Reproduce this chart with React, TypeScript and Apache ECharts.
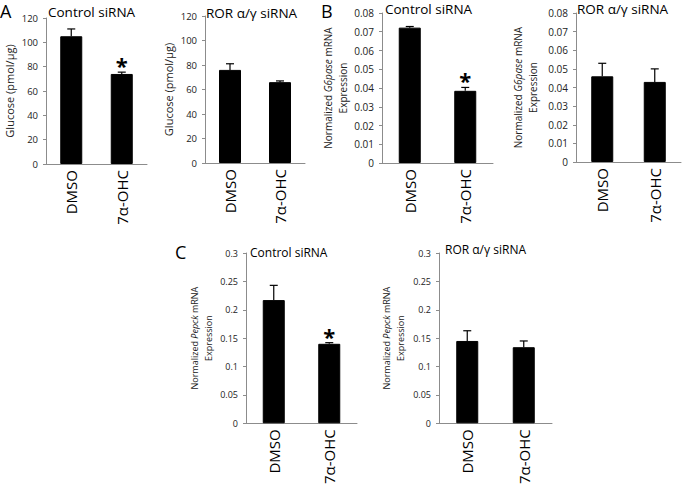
import React, { useEffect, useRef } from "react";
import * as echarts from "echarts";

const categories = ["DMSO", "7α-OHC"];

const glucoseControl = [105, 74];
const glucoseControlErr = [6, 1.5];
const glucoseRor = [76, 66];
const glucoseRorErr = [5, 1];

const g6paseControl = [0.0722, 0.0385];
const g6paseControlErr = [0.0006, 0.0018];
const g6paseRor = [0.046, 0.043];
const g6paseRorErr = [0.007, 0.007];

const pepckControl = [0.217, 0.14];
const pepckControlErr = [0.026, 0.002];
const pepckRor = [0.145, 0.134];
const pepckRorErr = [0.018, 0.011];

const controlSig = [0, 1];
const rorSig = [0, 0];

const FONT = "Open Sans";

type Panel = {
  grid: { left: number; top: number; width: number; height: number };
  values: number[];
  errs: number[];
  sig: number[];
  max: number;
  interval: number;
  tickFont: number;
  name: string;
  nameFont: number;
  nameGap: number;
  catFont: number;
};

const panels: Panel[] = [
  {
    grid: { left: 46, top: 18, width: 101, height: 146 },
    values: glucoseControl, errs: glucoseControlErr, sig: controlSig,
    max: 120, interval: 20, tickFont: 9.5,
    name: "Glucose (pmol/µg)", nameFont: 11, nameGap: 29, catFont: 15,
  },
  {
    grid: { left: 205, top: 16, width: 100, height: 147 },
    values: glucoseRor, errs: glucoseRorErr, sig: rorSig,
    max: 120, interval: 20, tickFont: 9.5,
    name: "Glucose (pmol/µg)", nameFont: 11, nameGap: 29, catFont: 15,
  },
  {
    grid: { left: 382, top: 13, width: 111, height: 150 },
    values: g6paseControl, errs: g6paseControlErr, sig: controlSig,
    max: 0.08, interval: 0.01, tickFont: 10,
    name: "{n|Normalized }{i|G6pase}{n| mRNA}\n{n|Expression}", nameFont: 10, nameGap: 32, catFont: 15,
  },
  {
    grid: { left: 576, top: 13, width: 105, height: 149 },
    values: g6paseRor, errs: g6paseRorErr, sig: rorSig,
    max: 0.08, interval: 0.01, tickFont: 10,
    name: "{n|Normalized }{i|G6pase}{n| mRNA}\n{n|Expression}", nameFont: 10, nameGap: 36, catFont: 15,
  },
  {
    grid: { left: 246, top: 253, width: 111, height: 174 },
    values: pepckControl, errs: pepckControlErr, sig: controlSig,
    max: 0.3, interval: 0.05, tickFont: 9,
    name: "{n|Normalized }{i|Pepck}{n| mRNA}\n{n|Expression}", nameFont: 9, nameGap: 31, catFont: 15,
  },
  {
    grid: { left: 439, top: 253, width: 113, height: 174 },
    values: pepckRor, errs: pepckRorErr, sig: rorSig,
    max: 0.3, interval: 0.05, tickFont: 9,
    name: "{n|Normalized }{i|Pepck}{n| mRNA}\n{n|Expression}", nameFont: 9, nameGap: 32, catFont: 15,
  },
];

const titles = [
  { text: "A", x: 0, y: 11, size: 18, va: "middle" },
  { text: "Control siRNA", x: 48, y: 12, size: 13.5, va: "middle" },
  { text: "ROR α/γ siRNA", x: 206, y: 13, size: 13.5, va: "middle" },
  { text: "B", x: 321, y: 11, size: 18, va: "middle" },
  { text: "Control siRNA", x: 385, y: 9, size: 13.5, va: "middle" },
  { text: "ROR α/γ siRNA", x: 577, y: 9, size: 13.5, va: "middle" },
  { text: "C", x: 175, y: 252, size: 18, va: "middle" },
  { text: "Control siRNA", x: 250, y: 252, size: 12, va: "middle" },
  { text: "ROR α/γ siRNA", x: 445, y: 249, size: 12, va: "middle" },
];

export default function App() {
  const ref = useRef<HTMLDivElement>(null);
  useEffect(() => {
    if (!ref.current) return;
    const chart = echarts.init(ref.current, null, { renderer: "svg" });
    const grids: any[] = [];
    const xAxes: any[] = [];
    const yAxes: any[] = [];
    const series: any[] = [];
    panels.forEach((p, i) => {
      grids.push({ ...p.grid, containLabel: false });
      xAxes.push({
        type: "category",
        gridIndex: i,
        data: categories,
        axisLine: { lineStyle: { color: "#8c8c8c", width: 1 } },
        axisTick: { show: false },
        axisLabel: {
          rotate: 90,
          margin: 6,
          color: "#000",
          fontFamily: FONT,
          fontSize: p.catFont,
          interval: 0,
        },
      });
      yAxes.push({
        type: "value",
        gridIndex: i,
        min: 0,
        max: p.max,
        interval: p.interval,
        splitLine: { show: false },
        axisLine: { show: true, lineStyle: { color: "#8c8c8c", width: 1 } },
        axisTick: { show: true, length: 3, lineStyle: { color: "#8c8c8c" } },
        axisLabel: { color: "#222", fontFamily: FONT, fontSize: p.tickFont, margin: 8 },
        name: p.name,
        nameLocation: "middle",
        nameGap: p.nameGap,
        nameTextStyle: {
          color: "#222",
          fontFamily: FONT,
          fontSize: p.nameFont,
          lineHeight: p.nameFont + 5,
          rich: {
            n: { fontFamily: FONT, fontSize: p.nameFont, color: "#222", lineHeight: p.nameFont + 5 },
            i: { fontFamily: FONT, fontSize: p.nameFont, color: "#222", fontStyle: "italic", lineHeight: p.nameFont + 5 },
          },
        },
      });
      series.push({
        type: "bar",
        xAxisIndex: i,
        yAxisIndex: i,
        data: p.values,
        barWidth: 22,
        itemStyle: { color: "#000", borderColor: "#000", borderWidth: 1 },
        silent: true,
      });
      series.push({
        type: "custom",
        xAxisIndex: i,
        yAxisIndex: i,
        clip: false,
        silent: true,
        z: 3,
        data: p.values.map((v, k) => [k, v, p.errs[k], p.sig[k]]),
        encode: { x: 0, y: 1 },
        renderItem: (params: any, api: any) => {
          const x = api.value(0);
          const v = api.value(1);
          const e = api.value(2);
          const s = api.value(3);
          const p0 = api.coord([x, v]);
          const p1 = api.coord([x, v + e]);
          const children: any[] = [
            {
              type: "line",
              shape: { x1: p0[0], y1: p0[1], x2: p1[0], y2: p1[1] },
              style: { stroke: "#000", lineWidth: 1.2 },
            },
            {
              type: "line",
              shape: { x1: p1[0] - 4, y1: p1[1], x2: p1[0] + 4, y2: p1[1] },
              style: { stroke: "#000", lineWidth: 1.2 },
            },
          ];
          if (s) {
            children.push({
              type: "text",
              x: p1[0],
              y: p1[1] + 4,
              style: {
                text: "*",
                fontFamily: FONT,
                fontSize: 22,
                fontWeight: "bold",
                fill: "#000",
                align: "center",
                verticalAlign: "bottom",
              },
            });
          }
          return { type: "group", children };
        },
      });
    });

    const graphic = titles.map((t) => ({
      type: "text",
      x: t.x,
      y: t.y,
      style: {
        text: t.text,
        fontFamily: FONT,
        fontSize: t.size,
        fill: "#000",
        align: "left",
        verticalAlign: t.va,
      },
    }));

    chart.setOption({
      animation: false,
      backgroundColor: "#fff",
      grid: grids,
      xAxis: xAxes,
      yAxis: yAxes,
      series,
      graphic,
    });
    return () => chart.dispose();
  }, []);
  return <div ref={ref} style={{ width: 685, height: 487, position: "absolute", left: 0, top: 0 }} />;
}
